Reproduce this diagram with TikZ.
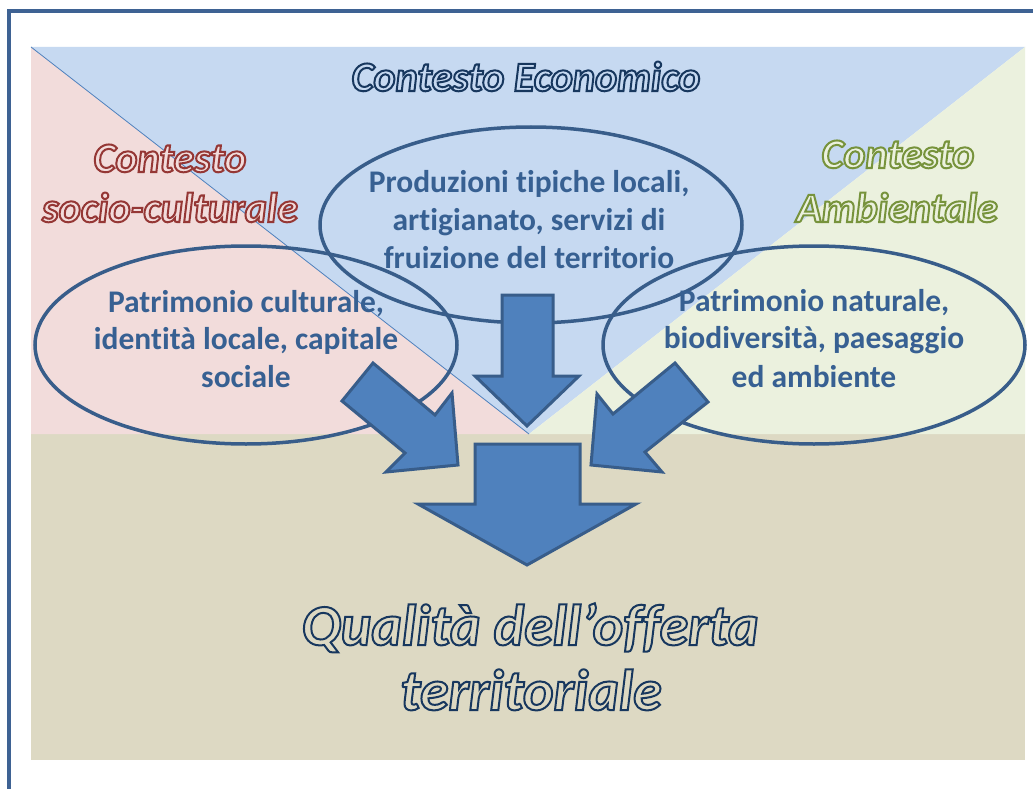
\documentclass[tikz,border=0pt]{standalone}
\usepackage{fontspec}
\setmainfont{Carlito}[Ligatures=NoCommon]
\definecolor{bgpink}{HTML}{F2DCDB}
\definecolor{bgblue}{HTML}{C6D9F1}
\definecolor{bggreen}{HTML}{EBF1DE}
\definecolor{bgbeige}{HTML}{DDD9C3}
\definecolor{edgeblue}{HTML}{385D8A}
\definecolor{arrfill}{HTML}{4F81BD}
\definecolor{txtblue}{HTML}{376092}
\definecolor{framecol}{HTML}{3E6293}
\newcommand{\outl}[3]{{\color{#2}\special{pdf:literal direct #1 RG 2 w 2 Tr}#3\special{pdf:literal direct 0 Tr 0.4 w}}}
\tikzset{
  oval/.style={draw=edgeblue, line width=3.5pt},
  bigarrow/.style={fill=arrfill, draw=edgeblue, line width=3pt, line join=miter},
  ovaltext/.style={anchor=base, text=txtblue, inner sep=0pt, font=\fontsize{31.5}{38}\selectfont\bfseries},
  titletext/.style={anchor=base, inner sep=0pt, font=\fontsize{42}{48}\selectfont\bfseries\itshape},
  bigtitle/.style={anchor=base, inner sep=0pt, font=\fontsize{58}{65}\selectfont\bfseries\itshape}
}
\begin{document}
\begin{tikzpicture}[x=1pt,y=-1pt]
\useasboundingbox (0,0) rectangle (1033,789);
\clip (0,0) rectangle (1033,789);
\fill[white] (0,0) rectangle (1033,789);
% frame
\draw[framecol, line width=3.5pt] (9,820) -- (9,11) -- (1060,11);
% backgrounds
\fill[bgbeige] (31,434) rectangle (1025,760);
\fill[bgpink] (31,47) -- (529,434) -- (31,434) -- cycle;
\fill[bgblue] (31,47) -- (1025,47) -- (529,434) -- cycle;
\fill[bggreen] (1025,47) -- (1025,434) -- (529,434) -- cycle;
\draw[arrfill, line width=0.8pt] (31,47) -- (529,434);
% titles
\node[titletext] (teco) at (526,91) {\outl{0.09 0.216 0.369}{bgblue}{Contesto Economico}};
\node[titletext] (tsoc1) at (170,172) {\outl{0.584 0.216 0.208}{bgpink}{Contesto}};
\node[titletext] (tsoc2) at (170,222) {\outl{0.584 0.216 0.208}{bgpink}{socio-culturale}};
\node[titletext] (tamb1) at (898,168) {\outl{0.467 0.576 0.235}{bggreen}{Contesto}};
\node[titletext] (tamb2) at (897,222) {\outl{0.467 0.576 0.235}{bggreen}{Ambientale}};
% ellipses
\draw[oval] (531,225) ellipse [x radius=211, y radius=98];
\draw[oval] (246,345) ellipse [x radius=211, y radius=99];
\draw[oval] (814,345) ellipse [x radius=211, y radius=99];
% ellipse texts
\node[ovaltext] (e1) at (529,192) {Produzioni tipiche locali,};
\node[ovaltext] (e2) at (529,230) {artigianato, servizi di};
\node[ovaltext] (e3) at (529,268) {fruizione del territorio};
\node[ovaltext] (l1) at (246,312) {Patrimonio culturale,};
\node[ovaltext] (l2) at (246,349) {identità locale, capitale};
\node[ovaltext] (l3) at (246,387) {sociale};
\node[ovaltext] (r1) at (814,311) {Patrimonio naturale,};
\node[ovaltext] (r2) at (814,348) {biodiversità, paesaggio};
\node[ovaltext] (r3) at (814,387) {ed ambiente};
% arrows
\draw[bigarrow] (502,295) -- (553,295) -- (553,376) -- (579,376) -- (527,426) -- (475,376) -- (502,376) -- cycle;
\draw[bigarrow] (342,401) -- (373,363) -- (435,415) -- (452,393) -- (458,465) -- (386,472) -- (405,453) -- cycle;
\draw[bigarrow] (708,402) -- (675,363) -- (613,414) -- (597,394) -- (591,465) -- (662,472) -- (645,452) -- cycle;
\draw[bigarrow] (475,444) -- (580,444) -- (580,504) -- (636,504) -- (527,565) -- (418,504) -- (475,504) -- cycle;
% bottom title
\node[bigtitle] (q1) at (530,645) {\outl{0.09 0.216 0.369}{bgbeige}{Qualità dell’offerta}};
\node[bigtitle] (q2) at (531,710) {\outl{0.09 0.216 0.369}{bgbeige}{territoriale}};
\end{tikzpicture}
\end{document}
